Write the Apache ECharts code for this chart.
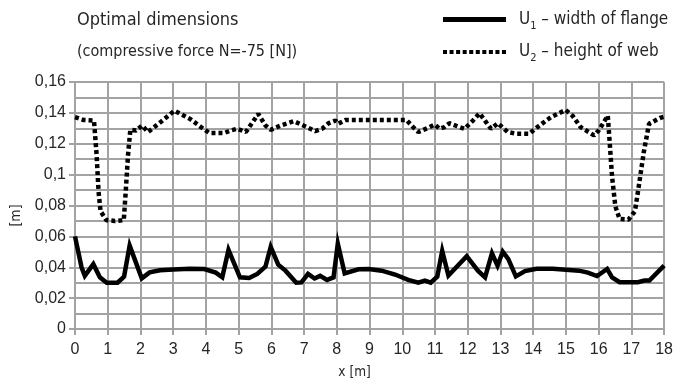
<!DOCTYPE html>
<html>
<head>
<meta charset="utf-8">
<script src="https://cdn.jsdelivr.net/npm/echarts@6/dist/echarts.min.js"></script>
<style>html,body{margin:0;padding:0;background:#fff}#c{width:676px;height:384px}</style>
</head>
<body>
<div id="c"></div>
<script>
var titleText = 'Optimal dimensions';
var subtitleText = '(compressive force N=-75 [N])';
var seriesNames = ['U1', 'U2'];
var legendLabels = { U1: ['U', '1', ' – width of flange'], U2: ['U', '2', ' – height of web'] };
var xAxisName = 'x [m]';
var yAxisName = '[m]';

var u1X = [0, 0.2, 0.3, 0.56, 0.76, 0.97, 1.3, 1.5, 1.67, 2.04, 2.28, 2.6, 3.0, 3.5, 3.95, 4.3, 4.5, 4.69, 5.04, 5.32, 5.57, 5.82, 5.98, 6.21, 6.43, 6.76, 6.92, 7.12, 7.32, 7.49, 7.70, 7.90, 8.03, 8.24, 8.66, 8.97, 9.37, 9.78, 10.18, 10.49, 10.69, 10.87, 11.07, 11.22, 11.41, 11.97, 12.31, 12.53, 12.74, 12.91, 13.07, 13.24, 13.47, 13.75, 14.1, 14.6, 15.4, 15.67, 15.95, 16.26, 16.41, 16.64, 17.2, 17.4, 17.55, 18.0];
var u1Y = [0.060, 0.040, 0.0345, 0.042, 0.0335, 0.030, 0.030, 0.034, 0.054, 0.0328, 0.0367, 0.038, 0.0385, 0.039, 0.0388, 0.0365, 0.0335, 0.0512, 0.0335, 0.033, 0.0357, 0.0404, 0.0532, 0.0417, 0.0378, 0.030, 0.0302, 0.0357, 0.0327, 0.0344, 0.0318, 0.0335, 0.0553, 0.036, 0.0387, 0.0389, 0.0378, 0.0353, 0.0318, 0.030, 0.0314, 0.030, 0.034, 0.0506, 0.0346, 0.0472, 0.0378, 0.0335, 0.049, 0.041, 0.0501, 0.0453, 0.0341, 0.0375, 0.039, 0.039, 0.0378, 0.0365, 0.0343, 0.0389, 0.0335, 0.0303, 0.0303, 0.0314, 0.0314, 0.041];

var u2X = [0, 0.25, 0.58, 0.66, 0.72, 0.78, 0.96, 1.22, 1.49, 1.55, 1.62, 1.69, 1.87, 2.05, 2.23, 2.55, 3.04, 3.52, 3.85, 4.10, 4.56, 4.76, 4.96, 5.22, 5.60, 5.82, 5.98, 6.28, 6.69, 7.04, 7.34, 7.55, 7.75, 7.96, 8.05, 8.26, 10.13, 10.33, 10.49, 10.79, 10.99, 11.14, 11.29, 11.44, 11.70, 11.90, 12.16, 12.36, 12.56, 12.71, 12.92, 13.22, 13.47, 13.88, 14.13, 14.54, 14.99, 15.20, 15.45, 15.86, 16.0, 16.16, 16.28, 16.34, 16.41, 16.51, 16.64, 16.91, 17.11, 17.24, 17.38, 17.54, 17.87, 18.0];
var u2Y = [0.1372, 0.1354, 0.135, 0.113, 0.089, 0.0763, 0.0705, 0.070, 0.0705, 0.089, 0.1126, 0.129, 0.1286, 0.1318, 0.1276, 0.1329, 0.1414, 0.136, 0.1308, 0.127, 0.127, 0.1286, 0.1297, 0.1276, 0.1393, 0.1318, 0.129, 0.1318, 0.1346, 0.1312, 0.1282, 0.1297, 0.1333, 0.135, 0.133, 0.1354, 0.1354, 0.1308, 0.1276, 0.1303, 0.1324, 0.1297, 0.1308, 0.1333, 0.1312, 0.1297, 0.135, 0.1397, 0.134, 0.1297, 0.1333, 0.1276, 0.1265, 0.1265, 0.1308, 0.1372, 0.1419, 0.1382, 0.1308, 0.1254, 0.1286, 0.134, 0.1382, 0.120, 0.0987, 0.0795, 0.0713, 0.0709, 0.0763, 0.0944, 0.1147, 0.1329, 0.1367, 0.1375];

function pairs(xs, ys) { return xs.map(function (x, i) { return [x, ys[i]]; }); }

// dotted legend icon: a row of small squares
var dots = '';
for (var k = 0; k < 10; k++) { dots += 'M' + (k * 6.5) + ',0h4v4h-4z'; }

var FONT = '"Liberation Sans", Arial, sans-serif';
var NARROW = '"DejaVu Sans Condensed", "Liberation Sans", sans-serif';
var TXT = '#262626';
var GRID = '#a3a3a3';

var chart = echarts.init(document.getElementById('c'), null, { renderer: 'canvas' });
chart.setOption({
  animation: false,
  backgroundColor: '#fff',
  textStyle: { fontFamily: FONT, color: TXT },
  title: [
    { text: titleText, left: 72, top: 6, textStyle: { fontFamily: NARROW, fontSize: 18, fontWeight: 'normal', color: TXT } },
    { text: subtitleText, left: 72, top: 39, textStyle: { fontFamily: NARROW, fontSize: 16, fontWeight: 'normal', color: TXT } }
  ],
  legend: {
    orient: 'vertical',
    left: 438,
    top: 6,
    itemWidth: 63,
    itemHeight: 5,
    itemGap: 12,
    data: [{ name: seriesNames[0], icon: 'rect' }, { name: seriesNames[1], icon: 'path://' + dots }],
    itemStyle: { color: '#000', borderWidth: 0 },
    formatter: function (name) {
      var p = legendLabels[name];
      return '{u|' + p[0] + '}{s|' + p[1] + '}{t|' + p[2] + '}';
    },
    textStyle: {
      fontFamily: NARROW,
      color: TXT,
      padding: [0, 0, 0, 8],
      rich: {
        u: { fontFamily: NARROW, fontSize: 17, color: TXT, lineHeight: 24 },
        s: { fontFamily: NARROW, fontSize: 11, color: TXT, lineHeight: 11, verticalAlign: 'bottom' },
        t: { fontFamily: NARROW, fontSize: 17, color: TXT, lineHeight: 24 }
      }
    }
  },
  grid: { left: 75, right: 9, top: 82, bottom: 52, containLabel: false },
  xAxis: {
    type: 'value',
    min: 0, max: 18, interval: 1,
    name: xAxisName, nameLocation: 'middle', nameGap: 36,
    nameTextStyle: { fontFamily: NARROW, fontSize: 13.5, color: TXT, padding: [0, 30, 0, 0] },
    axisLine: { show: true, lineStyle: { color: GRID, width: 2 } },
    axisTick: { show: true, length: 6, lineStyle: { color: GRID, width: 2 } },
    axisLabel: { fontFamily: FONT, fontSize: 16, color: TXT, margin: 13 },
    splitLine: { show: true, lineStyle: { color: GRID, width: 2 } }
  },
  yAxis: {
    type: 'value',
    min: 0, max: 0.16, interval: 0.02,
    name: yAxisName, nameLocation: 'middle', nameGap: 52, nameRotate: 90,
    nameTextStyle: { fontFamily: NARROW, fontSize: 14, color: TXT, padding: [0, 20, 0, 0] },
    axisLine: { show: true, lineStyle: { color: GRID, width: 2 } },
    axisTick: { show: true, length: 6, lineStyle: { color: GRID, width: 2 } },
    axisLabel: {
      fontFamily: FONT, fontSize: 16, color: TXT, margin: 9,
      formatter: function (v) { return String(Math.round(v * 100) / 100).replace('.', ','); }
    },
    splitLine: { show: true, lineStyle: { color: GRID, width: 2 } },
    minorTick: { show: false, splitNumber: 2 },
    minorSplitLine: { show: true, lineStyle: { color: GRID, width: 2 } }
  },
  series: [
    {
      name: seriesNames[0], type: 'line', data: pairs(u1X, u1Y), symbol: 'none',
      lineStyle: { color: '#000', width: 4.5, join: 'miter', cap: 'butt' }, itemStyle: { color: '#000' }, z: 3
    },
    {
      name: seriesNames[1], type: 'line', data: pairs(u2X, u2Y), symbol: 'none',
      lineStyle: { color: '#000', width: 4.5, type: [4, 3], cap: 'butt' }, itemStyle: { color: '#000' }, z: 3
    }
  ]
});
</script>
</body>
</html>
